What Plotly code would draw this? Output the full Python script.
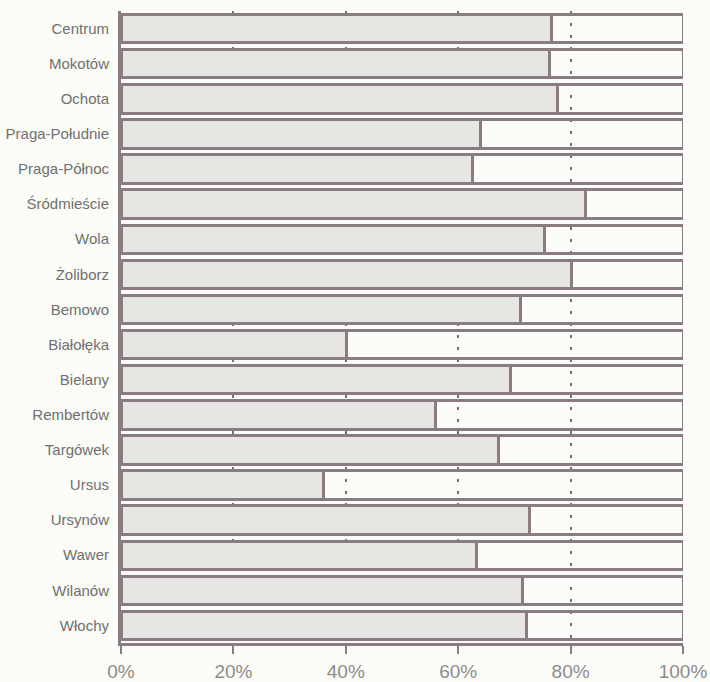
import plotly.graph_objects as go

districts = ["Centrum", "Mokotów", "Ochota", "Praga-Południe", "Praga-Północ",
             "Śródmieście", "Wola", "Żoliborz", "Bemowo", "Białołęka", "Bielany",
             "Rembertów", "Targówek", "Ursus", "Ursynów", "Wawer", "Wilanów", "Włochy"]
share = [76.6, 76.2, 77.7, 63.9, 62.5, 82.6, 75.4, 80.2, 71.1, 40.2, 69.3,
         55.9, 67.2, 36.0, 72.6, 63.3, 71.5, 72.2]
rest = [100 - v for v in share]
x_ticks = [0, 20, 40, 60, 80, 100]

outline = "#8b7d7f"
bg = "#fcfcf8"

fig = go.Figure()
fig.add_trace(go.Bar(y=districts, x=share, orientation="h",
                     marker=dict(color="#e6e7e2", line=dict(color=outline, width=3)),
                     showlegend=False, hoverinfo="skip"))
fig.add_trace(go.Bar(y=districts, x=rest, orientation="h",
                     marker=dict(color="rgba(0,0,0,0)", line=dict(color=outline, width=3)),
                     showlegend=False, hoverinfo="skip"))

fig.update_layout(
    barmode="stack", bargap=0.19,
    width=710, height=682,
    margin=dict(l=121, r=27, t=11, b=39, pad=0),
    paper_bgcolor=bg, plot_bgcolor=bg,
    font=dict(family="Liberation Sans, Arial, sans-serif"),
)
fig.update_xaxes(range=[0, 100], tickvals=x_ticks, ticktext=[f"{t}%" for t in x_ticks],
                 automargin=False,
                 showgrid=True, gridcolor="#7a6d70", gridwidth=2, griddash="3px,9px",
                 zeroline=False, showline=True, linecolor=outline, linewidth=3,
                 ticks="outside", ticklen=8, tickwidth=2, tickcolor=outline,
                 tickfont=dict(size=19, color="#8c8c8c"), ticklabelstandoff=1)
fig.update_yaxes(range=[17.5, -0.5], automargin=False, showgrid=False, zeroline=False,
                 showline=True, linecolor=outline, linewidth=3, ticks="",
                 tickfont=dict(size=15, color="#707070"), ticklabelstandoff=6)

fig.write_html("out.html")
